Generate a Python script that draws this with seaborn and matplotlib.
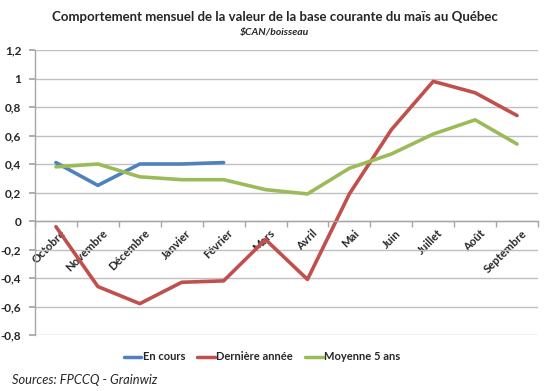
import matplotlib
matplotlib.use("Agg")
import matplotlib.pyplot as plt
import matplotlib.transforms as mtransforms
import seaborn as sns
import pandas as pd
import numpy as np

months = ["Octobre", "Novembre", "Décembre", "Janvier", "Février", "Mars",
          "Avril", "Mai", "Juin", "Juillet", "Août", "Septembre"]
en_cours = [0.41, 0.25, 0.40, 0.40, 0.41]
derniere_annee = [-0.04, -0.46, -0.58, -0.43, -0.42, -0.13, -0.41, 0.19, 0.64, 0.98, 0.90, 0.74]
moyenne_5_ans = [0.38, 0.40, 0.31, 0.29, 0.29, 0.22, 0.19, 0.37, 0.47, 0.61, 0.71, 0.54]
y_ticks = [-0.8, -0.6, -0.4, -0.2, 0, 0.2, 0.4, 0.6, 0.8, 1, 1.2]
series_names = ["En cours", "Dernière année", "Moyenne 5 ans"]
colors = ["#4F81BD", "#C0504D", "#9BBB59"]

sns.set_theme(style="white")
plt.rcParams['font.family'] = ['Lato', 'DejaVu Sans']

rows = []
for name, vals in zip(series_names, [en_cours, derniere_annee, moyenne_5_ans]):
    for i, v in enumerate(vals):
        rows.append({"idx": i, "mois": months[i], "valeur": v, "serie": name})
df = pd.DataFrame(rows)

fig = plt.figure(figsize=(5.5, 3.91), dpi=100)
ax = fig.add_axes([35/550, 1-335/391, (538-35)/550, (335-50)/391])

sns.lineplot(data=df, x="idx", y="valeur", hue="serie", hue_order=series_names,
             palette=colors, linewidth=2.6, ax=ax, legend=False, sort=False)

ax.set_xlim(-0.5, 11.5)
ax.set_ylim(-0.8, 1.2)
ax.set_yticks(y_ticks)
ax.set_yticklabels([("%g" % t).replace(".", ",") for t in y_ticks],
                   fontweight="bold", fontsize=8.5)
ax.yaxis.grid(True, color="#BFBFBF", linewidth=1)
ax.set_axisbelow(True)
ax.set_xlabel("")
ax.set_ylabel("")

for s in ["top", "right"]:
    ax.spines[s].set_visible(False)
ax.spines["left"].set_color("#A6A6A6")
ax.spines["left"].set_linewidth(1)
ax.spines["bottom"].set_position(("data", 0))
ax.spines["bottom"].set_color("#A6A6A6")
ax.spines["bottom"].set_linewidth(1)
ax.tick_params(axis="y", left=True, length=4, color="#A6A6A6", pad=6)

ax.set_xticks(np.arange(-0.5, 12, 1), minor=True)
ax.set_xticks(np.arange(12))
ax.set_xticklabels(months, rotation=45, ha="right", va="top",
                   rotation_mode="anchor", fontweight="bold", fontsize=8.2)
ax.tick_params(axis="x", which="major", length=0, pad=4)
ax.tick_params(axis="x", which="minor", bottom=True, length=4, color="#A6A6A6")
offset = mtransforms.ScaledTranslation(4/100, -1/100, fig.dpi_scale_trans)
for lbl in ax.get_xticklabels():
    lbl.set_transform(lbl.get_transform() + offset)

fig.text(0.5, 1-17/391, "Comportement mensuel de la valeur de la base courante du maïs au Québec",
         ha="center", va="center", fontweight="bold", fontsize=9.5)
fig.text(0.5, 1-33/391, "$CAN/boisseau", ha="center", va="center",
         fontstyle="italic", fontweight="bold", fontsize=7.5)

handles = [plt.Line2D([0], [0], color=c, linewidth=2.5) for c in colors]
fig.legend(handles, series_names, loc="center", bbox_to_anchor=(262/550, 1-357/391),
           ncol=3, frameon=False, handlelength=1.6, handletextpad=0.1,
           columnspacing=1.1, prop={"weight": "bold", "size": 8})

fig.text(12/550, 1-380/391, "Sources: FPCCQ - Grainwiz", ha="left", va="center",
         fontstyle="italic", fontsize=9.3)

fig.savefig("out.png", dpi=100)
